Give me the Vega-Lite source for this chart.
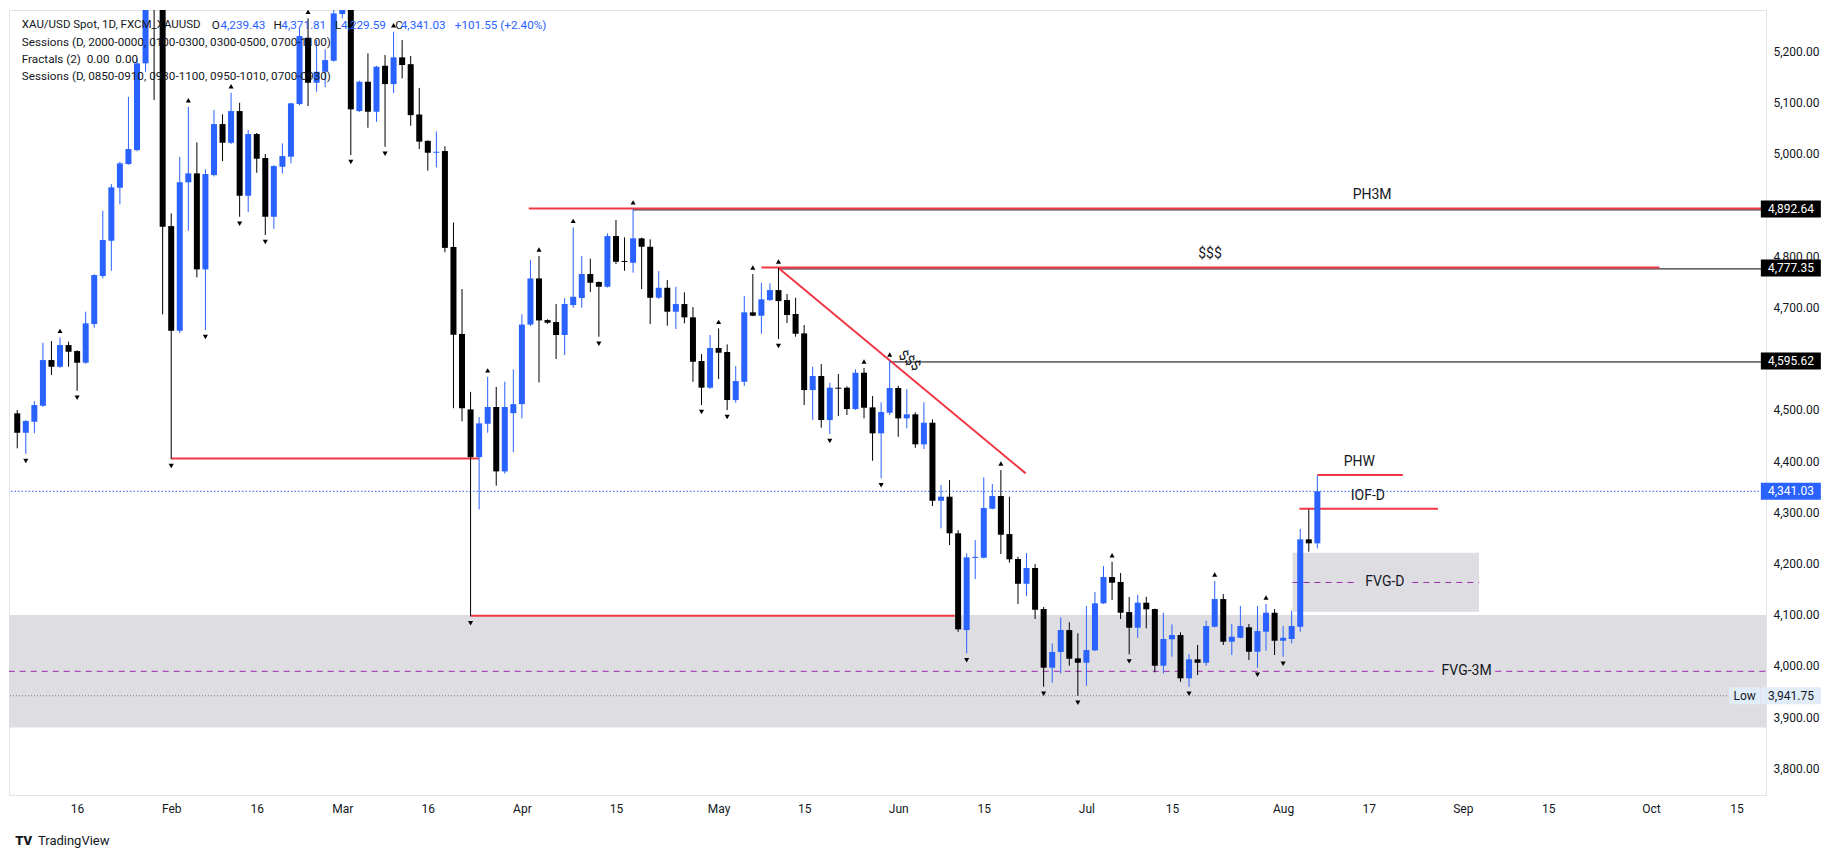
{
  "$schema": "https://vega.github.io/schema/vega-lite/v6.json",
  "width": 1757,
  "height": 785,
  "autosize": {"type": "none"},
  "padding": {"left": 9, "top": 10, "right": 74, "bottom": 63},
  "background": "#ffffff",
  "config": {
    "view": {"stroke": "#e0e3eb"},
    "font": "Roboto",
    "text": {"font": "Roboto", "color": "#131722"}
  },
  "datasets": {
    "one": [{}],
    "candles": [
      {"i":0,"o":4493.3,"h":4499.8,"l":4425,"c":4455.4},
      {"i":1,"o":4455.4,"h":4480.2,"l":4414,"c":4478.3,"fd":1},
      {"i":2,"o":4476.9,"h":4517.3,"l":4454.3,"c":4509.5},
      {"i":3,"o":4508.1,"h":4631.2,"l":4506,"c":4597.4},
      {"i":4,"o":4597.4,"h":4634.5,"l":4568.1,"c":4584.3},
      {"i":5,"o":4584.3,"h":4641.7,"l":4582,"c":4626.7,"fu":1},
      {"i":6,"o":4626.7,"h":4633.2,"l":4584.3,"c":4613.6},
      {"i":7,"o":4615,"h":4616.5,"l":4537.5,"c":4592.2,"fd":1},
      {"i":8,"o":4592.2,"h":4691.8,"l":4590,"c":4669.1},
      {"i":9,"o":4667.7,"h":4765,"l":4660.5,"c":4763.4},
      {"i":10,"o":4761.5,"h":4889,"l":4757,"c":4831.8},
      {"i":11,"o":4830.4,"h":4941.1,"l":4771.8,"c":4934.7},
      {"i":12,"o":4933.9,"h":4984.7,"l":4901.5,"c":4981.6},
      {"i":13,"o":4980.2,"h":5111.6,"l":4979,"c":5009.5},
      {"i":14,"o":5007.5,"h":5187,"l":5005,"c":5176.9},
      {"i":15,"o":5176.9,"h":5420,"l":5160.5,"c":5400},
      {"i":16,"o":5410,"h":5595,"l":5105.2,"c":5380},
      {"i":17,"o":5370,"h":5450,"l":4686.7,"c":4857.8},
      {"i":18,"o":4859,"h":4884,"l":4404,"c":4654.6,"fd":1},
      {"i":19,"o":4654.6,"h":4994.5,"l":4650,"c":4944.5},
      {"i":20,"o":4944.5,"h":5092.1,"l":4850,"c":4962,"fu":1},
      {"i":21,"o":4962,"h":5022.6,"l":4758.9,"c":4774.5},
      {"i":22,"o":4774.5,"h":4969.9,"l":4656,"c":4960.7,"fd":1},
      {"i":23,"o":4958.7,"h":5085.7,"l":4956,"c":5058.3},
      {"i":24,"o":5058.3,"h":5077.3,"l":4986.1,"c":5021.8},
      {"i":25,"o":5021.8,"h":5119.5,"l":5019.3,"c":5083.7,"fu":1},
      {"i":26,"o":5083.7,"h":5100,"l":4877.3,"c":4918.3,"fd":1},
      {"i":27,"o":4918.3,"h":5046.6,"l":4886.5,"c":5038.8},
      {"i":28,"o":5038.8,"h":5041,"l":4963.2,"c":4990.6},
      {"i":29,"o":4991.9,"h":4999.7,"l":4841.5,"c":4877.3,"fd":1},
      {"i":30,"o":4877.3,"h":4978,"l":4853.9,"c":4976.3},
      {"i":31,"o":4974.9,"h":5020.6,"l":4962,"c":4995.8},
      {"i":32,"o":4994.5,"h":5100,"l":4981.6,"c":5098.8},
      {"i":33,"o":5097.4,"h":5245,"l":5095,"c":5230.2},
      {"i":34,"o":5226.9,"h":5264.8,"l":5093.5,"c":5139,"fu":1},
      {"i":35,"o":5139,"h":5222.4,"l":5121.4,"c":5160.5},
      {"i":36,"o":5160.5,"h":5204.2,"l":5130,"c":5183.3},
      {"i":37,"o":5182,"h":5290,"l":5180,"c":5274.5},
      {"i":38,"o":5273.2,"h":5340,"l":5265,"c":5320},
      {"i":39,"o":5330,"h":5345,"l":4997.8,"c":5087,"fd":1},
      {"i":40,"o":5083.7,"h":5143,"l":5082,"c":5141},
      {"i":41,"o":5141,"h":5196.4,"l":5051.1,"c":5082.4},
      {"i":42,"o":5082.4,"h":5172,"l":5062.8,"c":5170.3},
      {"i":43,"o":5172.2,"h":5193.1,"l":5014,"c":5136.4,"fd":1},
      {"i":44,"o":5136.4,"h":5238.6,"l":5118.9,"c":5188.6,"fu":1},
      {"i":45,"o":5188.6,"h":5222.4,"l":5147.6,"c":5173.6},
      {"i":46,"o":5175.3,"h":5191.3,"l":5055,"c":5075.7},
      {"i":47,"o":5077,"h":5129,"l":5009.5,"c":5024},
      {"i":48,"o":5025.5,"h":5026.5,"l":4967.3,"c":5002.3},
      {"i":49,"o":5002.3,"h":5043.9,"l":4973.8,"c":5004.3},
      {"i":50,"o":5005.6,"h":5015,"l":4808,"c":4816.5},
      {"i":51,"o":4818.3,"h":4866.2,"l":4503.3,"c":4646.8},
      {"i":52,"o":4648.4,"h":4736.1,"l":4477.9,"c":4503.3},
      {"i":53,"o":4501,"h":4535.3,"l":4096.9,"c":4407.8,"fd":1},
      {"i":54,"o":4407.8,"h":4485.9,"l":4305.7,"c":4473.8},
      {"i":55,"o":4473,"h":4564.6,"l":4455.4,"c":4505.7,"fu":1},
      {"i":56,"o":4505.7,"h":4544.9,"l":4352,"c":4379.9},
      {"i":57,"o":4379.9,"h":4555.2,"l":4375.8,"c":4505.7},
      {"i":58,"o":4493.7,"h":4579.1,"l":4417.3,"c":4511.3},
      {"i":59,"o":4511.3,"h":4686.7,"l":4483.4,"c":4666.7},
      {"i":60,"o":4666.7,"h":4792.7,"l":4664,"c":4756.8},
      {"i":61,"o":4756.8,"h":4800.7,"l":4553.7,"c":4674.8,"fu":1},
      {"i":62,"o":4675.5,"h":4677,"l":4668,"c":4670.3},
      {"i":63,"o":4671.6,"h":4706.8,"l":4599.4,"c":4646.3},
      {"i":64,"o":4646.3,"h":4718.5,"l":4607.2,"c":4706.8},
      {"i":65,"o":4704.8,"h":4856.6,"l":4699.6,"c":4721,"fu":1},
      {"i":66,"o":4718.5,"h":4800.5,"l":4699.6,"c":4765.4},
      {"i":67,"o":4765.4,"h":4795.3,"l":4730.2,"c":4748.4},
      {"i":68,"o":4749.8,"h":4751,"l":4643,"c":4740.6,"fd":1},
      {"i":69,"o":4740.6,"h":4844.9,"l":4739,"c":4839.6},
      {"i":70,"o":4839.6,"h":4870.8,"l":4784.9,"c":4789.4},
      {"i":71,"o":4791,"h":4837.1,"l":4771.8,"c":4789},
      {"i":72,"o":4787.4,"h":4892.64,"l":4767.9,"c":4835.1,"fu":1},
      {"i":73,"o":4835.1,"h":4836.5,"l":4736.1,"c":4818.7},
      {"i":74,"o":4818.7,"h":4833.2,"l":4667.7,"c":4719.1},
      {"i":75,"o":4719.1,"h":4771.2,"l":4717,"c":4738.6},
      {"i":76,"o":4738.6,"h":4753.7,"l":4664.4,"c":4691.8},
      {"i":77,"o":4691.8,"h":4740.6,"l":4658,"c":4706.8},
      {"i":78,"o":4706.8,"h":4729.6,"l":4669.1,"c":4680.8},
      {"i":79,"o":4680.8,"h":4700.9,"l":4555,"c":4594.1},
      {"i":80,"o":4595.5,"h":4609.1,"l":4509.5,"c":4543.4,"fd":1},
      {"i":81,"o":4543.4,"h":4646.3,"l":4540.8,"c":4620.9},
      {"i":82,"o":4620.9,"h":4659.3,"l":4560.3,"c":4611.7,"fu":1},
      {"i":83,"o":4613.1,"h":4628,"l":4499.8,"c":4519.3,"fd":1},
      {"i":84,"o":4519.3,"h":4585.7,"l":4514,"c":4556.4},
      {"i":85,"o":4555,"h":4722.4,"l":4546.7,"c":4690.6},
      {"i":86,"o":4690.6,"h":4765.4,"l":4683,"c":4684,"fu":1},
      {"i":87,"o":4684,"h":4748.4,"l":4648.8,"c":4716},
      {"i":88,"o":4714.6,"h":4747.2,"l":4713,"c":4734.1},
      {"i":89,"o":4734.1,"h":4777.35,"l":4638.4,"c":4712.6,"fu":1,"fd":1},
      {"i":90,"o":4714.6,"h":4726.3,"l":4669.7,"c":4685.3},
      {"i":91,"o":4687.3,"h":4719.1,"l":4643,"c":4648.8},
      {"i":92,"o":4649.5,"h":4665.8,"l":4509.5,"c":4538.8},
      {"i":93,"o":4538.8,"h":4584.3,"l":4480.2,"c":4566.2},
      {"i":94,"o":4566.2,"h":4589.6,"l":4465.2,"c":4480.2},
      {"i":95,"o":4480.2,"h":4553.1,"l":4452.9,"c":4543.4,"fd":1},
      {"i":96,"o":4543.4,"h":4570.1,"l":4488,"c":4541.4},
      {"i":97,"o":4543.4,"h":4546,"l":4490,"c":4501.7},
      {"i":98,"o":4501.7,"h":4579.3,"l":4500,"c":4572.6},
      {"i":99,"o":4572.6,"h":4582,"l":4483.5,"c":4504.3,"fu":1},
      {"i":100,"o":4505,"h":4527.1,"l":4400.8,"c":4454.3},
      {"i":101,"o":4454.3,"h":4514.8,"l":4366.4,"c":4495.9,"fd":1},
      {"i":102,"o":4494.5,"h":4595.62,"l":4490,"c":4542.8,"fu":1},
      {"i":103,"o":4542.8,"h":4547.3,"l":4447.6,"c":4483.5},
      {"i":104,"o":4483.5,"h":4540.8,"l":4464,"c":4491.4},
      {"i":105,"o":4491.4,"h":4495.3,"l":4426,"c":4432.8},
      {"i":106,"o":4432.8,"h":4514.8,"l":4423.6,"c":4475},
      {"i":107,"o":4475,"h":4481.6,"l":4312.3,"c":4322.6},
      {"i":108,"o":4322.6,"h":4353.3,"l":4268.7,"c":4330.5},
      {"i":109,"o":4330.5,"h":4363,"l":4236.1,"c":4259},
      {"i":110,"o":4259,"h":4265,"l":4066.8,"c":4071.5},
      {"i":111,"o":4070.1,"h":4219.9,"l":4024.6,"c":4212.1,"fd":1},
      {"i":112,"o":4211,"h":4245.9,"l":4169.7,"c":4213},
      {"i":113,"o":4211.3,"h":4368.3,"l":4210,"c":4308.4},
      {"i":114,"o":4307,"h":4355.3,"l":4306,"c":4331.8},
      {"i":115,"o":4331.8,"h":4382.6,"l":4218.5,"c":4256.2,"fu":1},
      {"i":116,"o":4257.6,"h":4330.5,"l":4201.6,"c":4208.2},
      {"i":117,"o":4208.8,"h":4213.3,"l":4120.9,"c":4160.5},
      {"i":118,"o":4160.5,"h":4220.5,"l":4136.5,"c":4191.2},
      {"i":119,"o":4191.2,"h":4199,"l":4091.6,"c":4109.7},
      {"i":120,"o":4111.1,"h":4115,"l":3959.4,"c":3996.5,"fd":1},
      {"i":121,"o":3996.5,"h":4044.1,"l":3967.2,"c":4027.1},
      {"i":122,"o":4027.1,"h":4094.9,"l":3985.5,"c":4070.1},
      {"i":123,"o":4070.1,"h":4085.2,"l":4000.4,"c":4014},
      {"i":124,"o":4014.8,"h":4063.7,"l":3941.75,"c":4006.2,"fd":1},
      {"i":125,"o":4006.2,"h":4117,"l":3961.3,"c":4031},
      {"i":126,"o":4030.4,"h":4144.3,"l":4029,"c":4122.3},
      {"i":127,"o":4122.3,"h":4195.1,"l":4121,"c":4173.6},
      {"i":128,"o":4173.6,"h":4203.5,"l":4128.7,"c":4162.5,"fu":1},
      {"i":129,"o":4164,"h":4181.4,"l":4091.6,"c":4103.9},
      {"i":130,"o":4105.2,"h":4134.6,"l":4022.6,"c":4074.6,"fd":1},
      {"i":131,"o":4074.6,"h":4138.5,"l":4055,"c":4123.5},
      {"i":132,"o":4123.5,"h":4135.1,"l":4073.4,"c":4110.5},
      {"i":133,"o":4111.1,"h":4112,"l":3987.5,"c":4000.4},
      {"i":134,"o":4000.4,"h":4103.9,"l":3985.5,"c":4052.6},
      {"i":135,"o":4052,"h":4081.2,"l":4018,"c":4060.3},
      {"i":136,"o":4060.3,"h":4065.6,"l":3969.1,"c":3975.8},
      {"i":137,"o":3975.8,"h":4023.2,"l":3959.4,"c":4012.9,"fd":1},
      {"i":138,"o":4012.9,"h":4040.8,"l":3982,"c":4006.2},
      {"i":139,"o":4006.2,"h":4088.3,"l":4000.4,"c":4077.9},
      {"i":140,"o":4076.5,"h":4165.8,"l":4075,"c":4130.6,"fu":1},
      {"i":141,"o":4130.6,"h":4140.4,"l":4040.8,"c":4047.3},
      {"i":142,"o":4047.3,"h":4081.8,"l":4021.3,"c":4057},
      {"i":143,"o":4055,"h":4117,"l":4054,"c":4077.9},
      {"i":144,"o":4075.4,"h":4081.8,"l":4011.5,"c":4027.7},
      {"i":145,"o":4027.7,"h":4117,"l":3996.5,"c":4068.1,"fd":1},
      {"i":146,"o":4066.8,"h":4120.9,"l":4029.7,"c":4103.9,"fu":1},
      {"i":147,"o":4103.9,"h":4111.1,"l":4021.3,"c":4049.2},
      {"i":148,"o":4049.2,"h":4077.9,"l":4018,"c":4055,"fd":1},
      {"i":149,"o":4052.6,"h":4107.8,"l":4044.1,"c":4077.9},
      {"i":150,"o":4076.5,"h":4267.4,"l":4066.8,"c":4247.2},
      {"i":151,"o":4247.2,"h":4305.8,"l":4223,"c":4239.43},
      {"i":152,"o":4239.43,"h":4371.81,"l":4229.59,"c":4341.03}
    ],
    "zones": [
      {"name":"FVG-3M","x1":-1,"x2":210,"lo":3879.6,"hi":4099.4},
      {"name":"FVG-D","x1":149.1,"x2":170.9,"lo":4106,"hi":4221}
    ],
    "midlines": [
      {"x1":-1,"x2":165.7,"p":3989.5},
      {"x1":172.8,"x2":210,"p":3989.5},
      {"x1":149.1,"x2":156.7,"p":4163},
      {"x1":163.1,"x2":170.9,"p":4163}
    ],
    "redLevels": [
      {"x1":59.8,"x2":210,"p":4892.64},
      {"x1":87,"x2":192,"p":4777.35},
      {"x1":18,"x2":54,"p":4404},
      {"x1":53,"x2":109.6,"p":4096.9},
      {"x1":152,"x2":162,"p":4371.81},
      {"x1":149.9,"x2":166.1,"p":4305.8}
    ],
    "blackLevels": [
      {"x1":72,"x2":210,"p":4892.64},
      {"x1":89,"x2":210,"p":4777.35},
      {"x1":102,"x2":210,"p":4595.62}
    ],
    "trend": [
      {"x1":89,"p1":4777.35,"x2":117.9,"p2":4376.1}
    ],
    "labelsAbove": [
      {"t":"PH3M","i":158.4,"p":4892.64},
      {"t":"$$$","i":139.45,"p":4777.35},
      {"t":"PHW","i":156.9,"p":4371.81},
      {"t":"IOF-D","i":157.9,"p":4305.8}
    ],
    "labelsOn": [
      {"t":"FVG-D","i":159.9,"p":4163},
      {"t":"FVG-3M","i":169.45,"p":3989.5}
    ],
    "tags": [
      {"p":4892.64,"t":"4,892.64"},
      {"p":4777.35,"t":"4,777.35"},
      {"p":4595.62,"t":"4,595.62"}
    ]
  },
  "layer": [
    {
      "data": {"name": "zones"},
      "mark": {"type": "rect", "color": "#dedee2", "clip": true},
      "encoding": {
        "x": {
          "field": "x1", "type": "quantitative", "title": null,
          "scale": {"domain": [-0.38, 203.87], "nice": false, "zero": false},
          "axis": {
            "values": [7, 18, 28, 38, 48, 59, 70, 82, 92, 103, 113, 125, 135, 148, 158, 169, 179, 191, 201],
            "labelExpr": "['16','Feb','16','Mar','16','Apr','15','May','15','Jun','15','Jul','15','Aug','17','Sep','15','Oct','15'][indexof([7,18,28,38,48,59,70,82,92,103,113,125,135,148,158,169,179,191,201], datum.value)]",
            "ticks": false, "tickSize": 0, "grid": false, "domainColor": "#e0e3eb",
            "labelPadding": 8, "labelFontSize": 12, "labelColor": "#131722",
            "labelFont": "Roboto", "labelFlush": false, "labelOverlap": false, "title": null
          }
        },
        "x2": {"field": "x2"},
        "y": {
          "field": "lo", "type": "quantitative", "title": null,
          "scale": {"domain": [3747.9, 5281.1], "nice": false, "zero": false},
          "axis": {
            "orient": "right",
            "values": [3800, 3900, 4000, 4100, 4200, 4300, 4400, 4500, 4700, 4800, 5000, 5100, 5200],
            "format": ",.2f", "ticks": false, "tickSize": 0, "grid": false,
            "domainColor": "#e0e3eb", "labelPadding": 7, "labelFontSize": 12,
            "labelColor": "#131722", "labelFont": "Roboto", "title": null
          }
        },
        "y2": {"field": "hi"}
      }
    },
    {
      "data": {"name": "midlines"},
      "mark": {"type": "rule", "color": "#9c27b0", "strokeWidth": 1, "strokeDash": [6, 5], "clip": true},
      "encoding": {
        "x": {"field": "x1", "type": "quantitative"},
        "x2": {"field": "x2"},
        "y": {"field": "p", "type": "quantitative"}
      }
    },
    {
      "data": {"name": "one"},
      "mark": {"type": "rule", "color": "#787b86", "strokeWidth": 1, "strokeDash": [1, 2]},
      "encoding": {"y": {"datum": 3941.75}}
    },
    {
      "data": {"name": "one"},
      "mark": {"type": "rule", "color": "#2962ff", "strokeWidth": 1, "strokeDash": [1.5, 2]},
      "encoding": {"y": {"datum": 4341.03}}
    },
    {
      "data": {"name": "blackLevels"},
      "mark": {"type": "rule", "color": "#000000", "strokeWidth": 1, "yOffset": 1, "clip": true},
      "encoding": {
        "x": {"field": "x1", "type": "quantitative"},
        "x2": {"field": "x2"},
        "y": {"field": "p", "type": "quantitative"}
      }
    },
    {
      "data": {"name": "redLevels"},
      "mark": {"type": "rule", "color": "#f23645", "strokeWidth": 2, "yOffset": -0.5, "clip": true},
      "encoding": {
        "x": {"field": "x1", "type": "quantitative"},
        "x2": {"field": "x2"},
        "y": {"field": "p", "type": "quantitative"}
      }
    },
    {
      "data": {"name": "trend"},
      "mark": {"type": "rule", "color": "#f23645", "strokeWidth": 2, "clip": true},
      "encoding": {
        "x": {"field": "x1", "type": "quantitative"},
        "x2": {"field": "x2"},
        "y": {"field": "p1", "type": "quantitative"},
        "y2": {"field": "p2"}
      }
    },
    {
      "data": {"name": "candles"},
      "mark": {"type": "rule", "strokeWidth": 1, "clip": true},
      "encoding": {
        "x": {"field": "i", "type": "quantitative"},
        "y": {"field": "l", "type": "quantitative"},
        "y2": {"field": "h"},
        "color": {"condition": {"test": "datum.c >= datum.o", "value": "#2962ff"}, "value": "#000000"}
      }
    },
    {
      "data": {"name": "candles"},
      "mark": {"type": "bar", "size": 6, "clip": true},
      "encoding": {
        "x": {"field": "i", "type": "quantitative"},
        "y": {"field": "o", "type": "quantitative"},
        "y2": {"field": "c"},
        "color": {"condition": {"test": "datum.c >= datum.o", "value": "#2962ff"}, "value": "#000000"}
      }
    },
    {
      "data": {"name": "candles"},
      "transform": [{"filter": "datum.fu == 1"}],
      "mark": {"type": "point", "shape": "triangle-up", "size": 26, "filled": true, "color": "#000000", "opacity": 1, "yOffset": -6.5, "clip": true},
      "encoding": {
        "x": {"field": "i", "type": "quantitative"},
        "y": {"field": "h", "type": "quantitative"}
      }
    },
    {
      "data": {"name": "candles"},
      "transform": [{"filter": "datum.fd == 1"}],
      "mark": {"type": "point", "shape": "triangle-down", "size": 26, "filled": true, "color": "#000000", "opacity": 1, "yOffset": 7, "clip": true},
      "encoding": {
        "x": {"field": "i", "type": "quantitative"},
        "y": {"field": "l", "type": "quantitative"}
      }
    },
    {
      "data": {"name": "labelsAbove"},
      "mark": {"type": "text", "fontSize": 14, "color": "#131722", "baseline": "middle", "align": "center", "dy": -13.5},
      "encoding": {
        "x": {"field": "i", "type": "quantitative"},
        "y": {"field": "p", "type": "quantitative"},
        "text": {"field": "t"}
      }
    },
    {
      "data": {"name": "labelsOn"},
      "mark": {"type": "text", "fontSize": 14, "color": "#131722", "baseline": "middle", "align": "center"},
      "encoding": {
        "x": {"field": "i", "type": "quantitative"},
        "y": {"field": "p", "type": "quantitative"},
        "text": {"field": "t"}
      }
    },
    {
      "data": {"name": "one"},
      "mark": {"type": "text", "fontSize": 14, "color": "#131722", "baseline": "middle", "align": "center", "angle": 40, "text": "$$$"},
      "encoding": {"x": {"datum": 104.3}, "y": {"datum": 4595.62}}
    },
    {
      "data": {"name": "tags"},
      "mark": {"type": "point", "shape": "M-1,-0.2833L1,-0.2833L1,0.2833L-1,0.2833Z", "size": 3600, "filled": true, "color": "#000000", "opacity": 1},
      "encoding": {"x": {"datum": 207.36}, "y": {"field": "p", "type": "quantitative"}}
    },
    {
      "data": {"name": "tags"},
      "mark": {"type": "text", "fontSize": 12, "color": "#ffffff", "align": "left", "baseline": "middle"},
      "encoding": {"x": {"datum": 204.69}, "y": {"field": "p", "type": "quantitative"}, "text": {"field": "t"}}
    },
    {
      "data": {"name": "one"},
      "mark": {"type": "point", "shape": "M-1,-0.2833L1,-0.2833L1,0.2833L-1,0.2833Z", "size": 3600, "filled": true, "color": "#2962ff", "opacity": 1},
      "encoding": {"x": {"datum": 207.36}, "y": {"datum": 4341.03}}
    },
    {
      "data": {"name": "one"},
      "mark": {"type": "text", "fontSize": 12, "color": "#ffffff", "align": "left", "baseline": "middle", "text": "4,341.03"},
      "encoding": {"x": {"datum": 204.69}, "y": {"datum": 4341.03}}
    },
    {
      "data": {"name": "one"},
      "mark": {"type": "point", "shape": "M-1,-0.2833L1,-0.2833L1,0.2833L-1,0.2833Z", "size": 3600, "filled": true, "color": "#e1ecf9", "opacity": 1},
      "encoding": {"x": {"datum": 207.36}, "y": {"datum": 3941.75}}
    },
    {
      "data": {"name": "one"},
      "mark": {"type": "text", "fontSize": 12, "color": "#131722", "align": "left", "baseline": "middle", "text": "3,941.75"},
      "encoding": {"x": {"datum": 204.69}, "y": {"datum": 3941.75}}
    },
    {
      "data": {"name": "one"},
      "mark": {"type": "point", "shape": "M-1,-0.55L1,-0.55L1,0.55L-1,0.55Z", "size": 961, "filled": true, "color": "#e1ecf9", "opacity": 1},
      "encoding": {"x": {"datum": 201.95}, "y": {"datum": 3941.75}}
    },
    {
      "data": {"name": "one"},
      "mark": {"type": "text", "fontSize": 12, "color": "#131722", "align": "center", "baseline": "middle", "text": "Low"},
      "encoding": {"x": {"datum": 201.95}, "y": {"datum": 3941.75}}
    },
    {
      "data": {"name": "one"},
      "mark": {"type": "text", "fontSize": 11.5, "color": "#131722", "align": "left", "baseline": "middle", "text": "XAU/USD Spot, 1D, FXCM_XAUUSD"},
      "encoding": {"x": {"datum": 0.53}, "y": {"datum": 5251.7}}
    },
    {
      "data": {"name": "one"},
      "mark": {"type": "text", "fontSize": 11.7, "color": "#131722", "align": "left", "baseline": "middle", "text": "O"},
      "encoding": {"x": {"datum": 22.74}, "y": {"datum": 5251.7}}
    },
    {
      "data": {"name": "one"},
      "mark": {"type": "text", "fontSize": 11.7, "color": "#2962ff", "align": "left", "baseline": "middle", "text": "4,239.43"},
      "encoding": {"x": {"datum": 23.76}, "y": {"datum": 5251.7}}
    },
    {
      "data": {"name": "one"},
      "mark": {"type": "text", "fontSize": 11.7, "color": "#131722", "align": "left", "baseline": "middle", "text": "H"},
      "encoding": {"x": {"datum": 29.95}, "y": {"datum": 5251.7}}
    },
    {
      "data": {"name": "one"},
      "mark": {"type": "text", "fontSize": 11.7, "color": "#2962ff", "align": "left", "baseline": "middle", "text": "4,371.81"},
      "encoding": {"x": {"datum": 30.88}, "y": {"datum": 5251.7}}
    },
    {
      "data": {"name": "one"},
      "mark": {"type": "text", "fontSize": 11.7, "color": "#131722", "align": "left", "baseline": "middle", "text": "L"},
      "encoding": {"x": {"datum": 37.16}, "y": {"datum": 5251.7}}
    },
    {
      "data": {"name": "one"},
      "mark": {"type": "text", "fontSize": 11.7, "color": "#2962ff", "align": "left", "baseline": "middle", "text": "4,229.59"},
      "encoding": {"x": {"datum": 37.86}, "y": {"datum": 5251.7}}
    },
    {
      "data": {"name": "one"},
      "mark": {"type": "text", "fontSize": 11.7, "color": "#131722", "align": "left", "baseline": "middle", "text": "C"},
      "encoding": {"x": {"datum": 44.19}, "y": {"datum": 5251.7}}
    },
    {
      "data": {"name": "one"},
      "mark": {"type": "text", "fontSize": 11.7, "color": "#2962ff", "align": "left", "baseline": "middle", "text": "4,341.03"},
      "encoding": {"x": {"datum": 44.84}, "y": {"datum": 5251.7}}
    },
    {
      "data": {"name": "one"},
      "mark": {"type": "text", "fontSize": 11.7, "color": "#2962ff", "align": "left", "baseline": "middle", "text": "+101.55 (+2.40%)"},
      "encoding": {"x": {"datum": 51.16}, "y": {"datum": 5251.7}}
    },
    {
      "data": {"name": "one"},
      "mark": {"type": "text", "fontSize": 11.7, "color": "#131722", "align": "left", "baseline": "middle", "text": "Sessions (D, 2000-0000, 0100-0300, 0300-0500, 0700-1100)"},
      "encoding": {"x": {"datum": 0.53}, "y": {"datum": 5218.5}}
    },
    {
      "data": {"name": "one"},
      "mark": {"type": "text", "fontSize": 11.7, "color": "#131722", "align": "left", "baseline": "middle", "text": "Fractals (2)\u00a0\u00a00.00\u00a0\u00a00.00"},
      "encoding": {"x": {"datum": 0.53}, "y": {"datum": 5185.3}}
    },
    {
      "data": {"name": "one"},
      "mark": {"type": "text", "fontSize": 11.7, "color": "#131722", "align": "left", "baseline": "middle", "text": "Sessions (D, 0850-0910, 0930-1100, 0950-1010, 0700-0930)"},
      "encoding": {"x": {"datum": 0.53}, "y": {"datum": 5152.1}}
    },
    {
      "data": {"name": "one"},
      "mark": {"type": "text", "fontSize": 13, "fontWeight": 900, "color": "#131722", "align": "left", "baseline": "middle", "text": "TV"},
      "encoding": {"x": {"datum": -0.24}, "y": {"datum": 3658}}
    },
    {
      "data": {"name": "one"},
      "mark": {"type": "text", "fontSize": 13, "color": "#131722", "align": "left", "baseline": "middle", "text": "TradingView"},
      "encoding": {"x": {"datum": 2.42}, "y": {"datum": 3658}}
    }
  ]
}
